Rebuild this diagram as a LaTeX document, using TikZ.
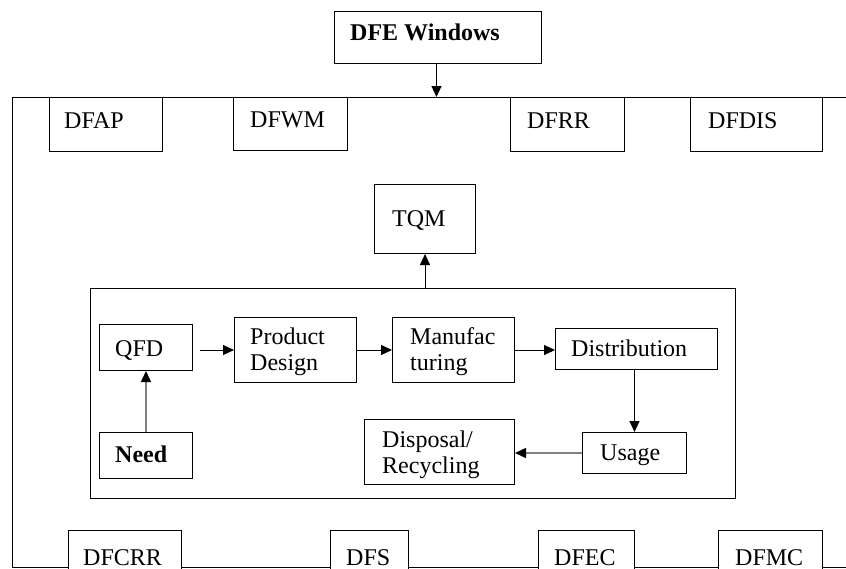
\documentclass[tikz,border=0pt]{standalone}
\usepackage{fontspec}
\setmainfont{Liberation Serif}
\usetikzlibrary{arrows.meta}
\begin{document}
\begin{tikzpicture}[x=1pt,y=-1pt,
  box/.style={draw, line width=1pt, fill=white, anchor=north west, inner sep=0pt},
  txt/.style={anchor=base west, inner sep=0pt, align=left, font=\fontsize{24}{25.5}\selectfont},
  arr/.style={line width=1pt, -{Triangle[length=11pt,width=10pt]}},
  garr/.style={line width=1.5pt, draw=black!50, -{Triangle[length=11pt,width=10pt,color=black]}}]
\useasboundingbox (0,0) rectangle (846,568);
\clip (0,0) rectangle (846,568);
% outer frame
\node[box, fill=none, minimum width=880pt, minimum height=470pt] (outer) at (12,97) {};
% top boxes
\node[box, minimum width=207pt, minimum height=52pt] (dfe) at (334,11) {};
\node[txt, font=\fontsize{24}{25.5}\selectfont\bfseries] (t-dfe) at (350,40) {DFE Windows};
\node[box, minimum width=113pt, minimum height=54pt] (dfap) at (49,97) {};
\node[txt] (t-dfap) at (64,128) {DFAP};
\node[box, minimum width=114pt, minimum height=53pt] (dfwm) at (233,97) {};
\node[txt] (t-dfwm) at (250,127) {DFWM};
\node[box, minimum width=114pt, minimum height=54pt] (dfrr) at (510,97) {};
\node[txt] (t-dfrr) at (527,128) {DFRR};
\node[box, minimum width=132pt, minimum height=54pt] (dfdis) at (690,97) {};
\node[txt] (t-dfdis) at (708,128) {DFDIS};
% TQM
\node[box, minimum width=101pt, minimum height=69pt] (tqm) at (374,184) {};
\node[txt] (t-tqm) at (392,226) {TQM};
% inner frame
\node[box, fill=none, minimum width=645pt, minimum height=210pt] (inner) at (90,288) {};
\node[box, minimum width=93pt, minimum height=46pt] (qfd) at (99,324) {};
\node[txt] (t-qfd) at (115,356) {QFD};
\node[box, minimum width=122pt, minimum height=65pt] (pd) at (234,317) {};
\node[txt] (t-pd) at (250,370) {Product\\Design};
\node[box, minimum width=122pt, minimum height=65pt] (man) at (392,317) {};
\node[txt] (t-man) at (410,370) {Manufac\\turing};
\node[box, minimum width=162pt, minimum height=41pt] (dist) at (555,328) {};
\node[txt] (t-dist) at (571,356) {Distribution};
\node[box, minimum width=93pt, minimum height=46pt] (need) at (99,432) {};
\node[txt, font=\fontsize{24}{25.5}\selectfont\bfseries] (t-need) at (115,462) {Need};
\node[box, minimum width=104pt, minimum height=41pt] (usage) at (582,432) {};
\node[txt] (t-usage) at (600,460) {Usage};
\node[box, minimum width=150pt, minimum height=65pt] (disp) at (364,419) {};
\node[txt] (t-disp) at (382,473) {Disposal/\\Recycling};
% bottom boxes
\node[box, minimum width=113pt, minimum height=70pt] (dfcrr) at (68,530) {};
\node[txt] (t-dfcrr) at (83,565) {DFCRR};
\node[box, minimum width=78pt, minimum height=70pt] (dfs) at (330,530) {};
\node[txt] (t-dfs) at (346,565) {DFS};
\node[box, minimum width=96pt, minimum height=70pt] (dfec) at (538,530) {};
\node[txt] (t-dfec) at (554,565) {DFEC};
\node[box, minimum width=104pt, minimum height=70pt] (dfmc) at (718,530) {};
\node[txt] (t-dfmc) at (735,565) {DFMC};
% connectors
\draw[arr] ([xshift=-1.5pt]dfe.south) -- ([xshift=-1.5pt]dfe.south |- outer.north);
\draw[arr] (tqm.south |- inner.north) -- (tqm.south);
\draw[arr, shorten <=7pt] (pd.west -| qfd.east) -- (pd.west);
\draw[arr] (pd.east) -- (man.west);
\draw[arr] (man.east) -- (man.east -| dist.west);
\draw[arr] (dist.south -| usage.north) -- (usage.north);
\draw[garr] (need.north) -- (qfd.south);
\draw[garr] (usage.west) -- (usage.west -| disp.east);
\end{tikzpicture}
\end{document}
